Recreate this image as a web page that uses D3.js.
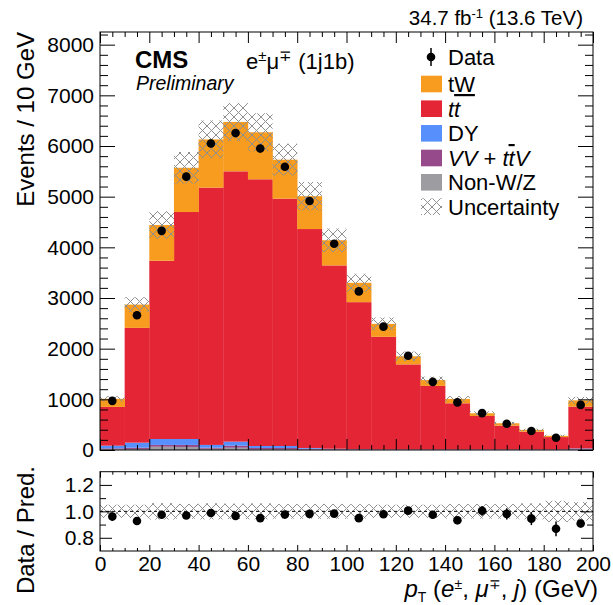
<!DOCTYPE html>
<html><head><meta charset="utf-8">
<script src="https://cdn.jsdelivr.net/npm/d3@7"></script>
<style>
body{margin:0;background:#fff}
svg{display:block}
text{font-family:"Liberation Sans",Arial,Helvetica,sans-serif;fill:#000}
</style>
</head><body>
<svg id="c" width="613" height="605"></svg>
<script>
// ---- data ----
const binLow = [0,10,20,30,40,50,60,70,80,90,100,110,120,130,140,150,160,170,180,190];
const binWidth = 10;
const nonWZ = [15,20,65,60,25,45,15,15,10,8,5,3,3,3,3,3,3,3,3,5];
const vvTTV = [18,25,35,40,20,40,25,25,15,10,8,5,5,5,5,5,5,5,5,10];
const dyVals = [52,100,117,117,55,80,39,39,15,7,5,3,3,3,3,3,3,3,3,15];
const ttbar = [765,2265,3518,4480,5078,5335,5264,4881,4321,3618,2900,2222,1679,1254,911,661,470,351,244,826];
const tWVals = [160,460,705,873,952,975,927,770,649,497,382,257,160,115,86,53,47,36,25,124];
const dataVals = [970,2660,4325,5395,6050,6255,5950,5590,4915,4070,3130,2435,1860,1345,940,728,518,376,243,890];
const uncRel = [0.05,0.05,0.062,0.056,0.061,0.058,0.06,0.055,0.056,0.056,0.054,0.05,0.05,0.05,0.055,0.055,0.055,0.06,0.08,0.07];
const yTicksMain = [0,1000,2000,3000,4000,5000,6000,7000,8000];
const yMinorMain = [200,400,600,800,1200,1400,1600,1800,2200,2400,2600,2800,3200,3400,3600,3800,4200,4400,4600,4800,5200,5400,5600,5800,6200,6400,6600,6800,7200,7400,7600,7800,8200];
const yTicksRatio = [0.8,1.0,1.2];
const yMinorRatio = [0.9,1.1];
const xTicks = [0,20,40,60,80,100,120,140,160,180,200];
const xMinor = [5,10,15,25,30,35,45,50,55,65,70,75,85,90,95,105,110,115,125,130,135,145,150,155,165,170,175,185,190,195];

const processes = [
  {key:"nonWZ", vals:nonWZ, color:"#9c9ca1", label:"Non-W/Z"},
  {key:"vv", vals:vvTTV, color:"#964a8b", label:"VV + ttV"},
  {key:"dy", vals:dyVals, color:"#5790fc", label:"DY"},
  {key:"tt", vals:ttbar, color:"#e42536", label:"tt"},
  {key:"tw", vals:tWVals, color:"#f89c20", label:"tW"}
];

// ---- layout ----
const svg = d3.select("#c");
const X0 = 100, X1 = 593;
const mainTop = 32, mainBot = 450;
const ratTop = 471.7, ratBot = 551;

const x = d3.scaleLinear().domain([0,200]).range([X0,X1]);
const y = d3.scaleLinear().domain([0,8250]).range([mainBot,mainTop]);
const yr = d3.scaleLinear().domain([0.7,1.3]).range([ratBot,ratTop]);

const rows = binLow.map((lo,i)=>{
  const r = {lo:lo, hi:lo+binWidth};
  processes.forEach(p=>r[p.key]=p.vals[i]);
  r.data = dataVals[i];
  r.unc = uncRel[i];
  return r;
});
rows.forEach(r=>{ r.pred = processes.reduce((s,p)=>s+r[p.key],0); });

const defs = svg.append("defs");
const pat = defs.append("pattern").attr("id","hatch").attr("patternUnits","userSpaceOnUse")
  .attr("width",9).attr("height",9);
pat.append("path").attr("d","M-1,-1L10,10M10,-1L-1,10").attr("stroke","#8f8f8f").attr("stroke-width",1).attr("fill","none");
defs.append("clipPath").attr("id","clipMain").append("rect")
  .attr("x",X0).attr("y",mainTop).attr("width",X1-X0).attr("height",mainBot-mainTop);
defs.append("clipPath").attr("id","clipRat").append("rect")
  .attr("x",X0).attr("y",ratTop).attr("width",X1-X0).attr("height",ratBot-ratTop);

// ---- main stack ----
const stack = d3.stack().keys(processes.map(p=>p.key))(rows);
const gMain = svg.append("g").attr("clip-path","url(#clipMain)");
stack.forEach((layer,li)=>{
  gMain.append("g").selectAll("rect").data(layer).join("rect")
    .attr("x",d=>x(d.data.lo))
    .attr("width",d=>x(d.data.hi)-x(d.data.lo)+0.3)
    .attr("y",d=>y(d[1]))
    .attr("height",d=>Math.max(0,y(d[0])-y(d[1])))
    .attr("fill",processes[li].color);
});
gMain.append("g").selectAll("rect").data(rows).join("rect")
  .attr("x",d=>x(d.lo)).attr("width",d=>x(d.hi)-x(d.lo))
  .attr("y",d=>y(d.pred*(1+d.unc)))
  .attr("height",d=>y(d.pred*(1-d.unc))-y(d.pred*(1+d.unc)))
  .attr("fill","url(#hatch)");

// data points main
const gPts = svg.append("g");
gPts.selectAll("line").data(rows).join("line")
  .attr("x1",d=>x(d.lo+binWidth/2)).attr("x2",d=>x(d.lo+binWidth/2))
  .attr("y1",d=>y(d.data+Math.sqrt(d.data))).attr("y2",d=>y(d.data-Math.sqrt(d.data)))
  .attr("stroke","#000").attr("stroke-width",1.5);
gPts.selectAll("circle").data(rows).join("circle")
  .attr("cx",d=>x(d.lo+binWidth/2)).attr("cy",d=>y(d.data)).attr("r",4.3).attr("fill","#000");

// ---- ratio panel ----
const gRat = svg.append("g").attr("clip-path","url(#clipRat)");
gRat.selectAll("rect").data(rows).join("rect")
  .attr("x",d=>x(d.lo)).attr("width",d=>x(d.hi)-x(d.lo))
  .attr("y",d=>yr(1+d.unc)).attr("height",d=>yr(1-d.unc)-yr(1+d.unc))
  .attr("fill","url(#hatch)");
gRat.append("line").attr("x1",X0).attr("x2",X1).attr("y1",yr(1)).attr("y2",yr(1))
  .attr("stroke","#000").attr("stroke-width",1).attr("stroke-dasharray","3,3");
gRat.selectAll("line.err").data(rows).join("line").attr("class","err")
  .attr("x1",d=>x(d.lo+binWidth/2)).attr("x2",d=>x(d.lo+binWidth/2))
  .attr("y1",d=>yr((d.data+Math.sqrt(d.data))/d.pred)).attr("y2",d=>yr((d.data-Math.sqrt(d.data))/d.pred))
  .attr("stroke","#000").attr("stroke-width",1.5);
gRat.selectAll("circle").data(rows).join("circle")
  .attr("cx",d=>x(d.lo+binWidth/2)).attr("cy",d=>yr(d.data/d.pred)).attr("r",4.3).attr("fill","#000");

// ---- axes ----
function clean(g){ g.select(".domain").remove(); g.selectAll("line").attr("stroke","#000"); }
const FS = "21px";
function ax(axis, tx, ty){
  const g = svg.append("g").attr("transform",`translate(${tx},${ty})`).call(axis);
  clean(g);
  g.selectAll("text").style("font-size",FS).style("font-family",'"Liberation Sans",Arial,sans-serif');
  return g;
}
// main
ax(d3.axisLeft(y).tickValues(yTicksMain).tickSize(-15).tickPadding(6).tickFormat(d3.format("d")).tickSizeOuter(0), X0, 0);
ax(d3.axisLeft(y).tickValues(yMinorMain).tickSize(-8).tickFormat("").tickSizeOuter(0), X0, 0);
ax(d3.axisRight(y).tickValues(yTicksMain).tickSize(-15).tickFormat("").tickSizeOuter(0), X1, 0);
ax(d3.axisRight(y).tickValues(yMinorMain).tickSize(-8).tickFormat("").tickSizeOuter(0), X1, 0);
ax(d3.axisBottom(x).tickValues(xTicks).tickSize(-11).tickFormat("").tickSizeOuter(0), 0, mainBot);
ax(d3.axisBottom(x).tickValues(xMinor).tickSize(-5).tickFormat("").tickSizeOuter(0), 0, mainBot);
ax(d3.axisTop(x).tickValues(xTicks).tickSize(-11).tickFormat("").tickSizeOuter(0), 0, mainTop);
ax(d3.axisTop(x).tickValues(xMinor).tickSize(-5).tickFormat("").tickSizeOuter(0), 0, mainTop);
// ratio
ax(d3.axisLeft(yr).tickValues(yTicksRatio).tickSize(-12).tickPadding(6).tickFormat(d3.format(".1f")).tickSizeOuter(0), X0, 0);
ax(d3.axisLeft(yr).tickValues(yMinorRatio).tickSize(-6).tickFormat("").tickSizeOuter(0), X0, 0);
ax(d3.axisRight(yr).tickValues(yTicksRatio).tickSize(-12).tickFormat("").tickSizeOuter(0), X1, 0);
ax(d3.axisRight(yr).tickValues(yMinorRatio).tickSize(-6).tickFormat("").tickSizeOuter(0), X1, 0);
ax(d3.axisBottom(x).tickValues(xTicks).tickSize(-6).tickPadding(5).tickFormat(d3.format("d")).tickSizeOuter(0), 0, ratBot);
ax(d3.axisBottom(x).tickValues(xMinor).tickSize(-3).tickFormat("").tickSizeOuter(0), 0, ratBot);
ax(d3.axisTop(x).tickValues(xTicks).tickSize(-6).tickFormat("").tickSizeOuter(0), 0, ratTop);
ax(d3.axisTop(x).tickValues(xMinor).tickSize(-3).tickFormat("").tickSizeOuter(0), 0, ratTop);

// frames
svg.append("rect").attr("x",X0).attr("y",mainTop).attr("width",X1-X0).attr("height",mainBot-mainTop)
  .attr("fill","none").attr("stroke","#000").attr("stroke-width",1);
svg.append("rect").attr("x",X0).attr("y",ratTop).attr("width",X1-X0).attr("height",ratBot-ratTop)
  .attr("fill","none").attr("stroke","#000").attr("stroke-width",1);

// ---- titles ----
svg.append("text").attr("transform","translate(34,32) rotate(-90)").attr("text-anchor","end")
  .style("font-size","24px").text("Events / 10 GeV");
svg.append("text").attr("transform","translate(34,466) rotate(-90)").attr("text-anchor","end")
  .style("font-size","24px").text("Data / Pred.");

const xt = svg.append("text").attr("x",598).attr("y",597).attr("text-anchor","end").style("font-size","24px");
xt.append("tspan").style("font-style","italic").text("p");
xt.append("tspan").attr("dy",5).style("font-size","14px").text("T");
xt.append("tspan").attr("dy",-5).text(" (");
xt.append("tspan").style("font-style","italic").text("e");
xt.append("tspan").attr("dy",-8).style("font-size","14px").text("±");
xt.append("tspan").attr("dy",8).text(", ");
xt.append("tspan").style("font-style","italic").text("μ");
xt.append("tspan").attr("dy",-8).style("font-size","14px").text("∓");
xt.append("tspan").attr("dy",8).text(", ");
xt.append("tspan").style("font-style","italic").text("j");
xt.append("tspan").text(") (GeV)");

const lumi = svg.append("text").attr("x",583).attr("y",25).attr("text-anchor","end").style("font-size","20.5px");
lumi.append("tspan").text("34.7 fb");
lumi.append("tspan").attr("dy",-7).style("font-size","13px").text("-1");
lumi.append("tspan").attr("dy",7).text(" (13.6 TeV)");

svg.append("text").attr("x",135).attr("y",68).style("font-size","24px").style("font-weight","bold").text("CMS");
svg.append("text").attr("x",136).attr("y",90).style("font-size","19.5px").style("font-style","italic").text("Preliminary");
const ch = svg.append("text").attr("x",246).attr("y",69).style("font-size","22px");
ch.append("tspan").text("e");
ch.append("tspan").attr("dy",-8).style("font-size","15px").text("±");
ch.append("tspan").attr("dy",8).text("μ");
ch.append("tspan").attr("dy",-8).style("font-size","15px").text("∓");
ch.append("tspan").attr("dy",8).text(" (1j1b)");

// ---- legend ----
const LX = 421, LTX = 448, LF = "22px";
const legRows = [57, 84, 108.7, 133.3, 158, 182.3, 206.7];
svg.append("line").attr("x1",431).attr("x2",431).attr("y1",legRows[0]-9).attr("y2",legRows[0]+9).attr("stroke","#000").attr("stroke-width",1.5);
svg.append("circle").attr("cx",431).attr("cy",legRows[0]).attr("r",4.3).attr("fill","#000");
svg.append("text").attr("x",LTX).attr("y",legRows[0]+8).style("font-size",LF).text("Data");
const legProc = [processes[4],processes[3],processes[2],processes[1],processes[0]];
legProc.forEach((p,i)=>{
  const cy = legRows[i+1];
  svg.append("rect").attr("x",LX).attr("y",cy-8.3).attr("width",21).attr("height",16.6).attr("fill",p.color);
});
const tl = (i)=>svg.append("text").attr("x",LTX).attr("y",legRows[i]+8).style("font-size",LF);
let t1 = tl(1); t1.append("tspan").text("t"); t1.append("tspan").style("text-decoration","underline").text("W");
tl(2).style("font-style","italic").text("tt");
tl(3).text("DY");
let t4 = tl(4); t4.append("tspan").style("font-style","italic").text("VV");
t4.append("tspan").text(" + ");
t4.append("tspan").style("font-style","italic").text("t");
t4.append("tspan").style("font-style","italic").style("text-decoration","overline").text("t");
t4.append("tspan").style("font-style","italic").text("V");
tl(5).text("Non-W/Z");
svg.append("rect").attr("x",LX).attr("y",legRows[6]-8.3).attr("width",21).attr("height",16.6).attr("fill","url(#hatch)");
tl(6).text("Uncertainty");
</script>
</body></html>
